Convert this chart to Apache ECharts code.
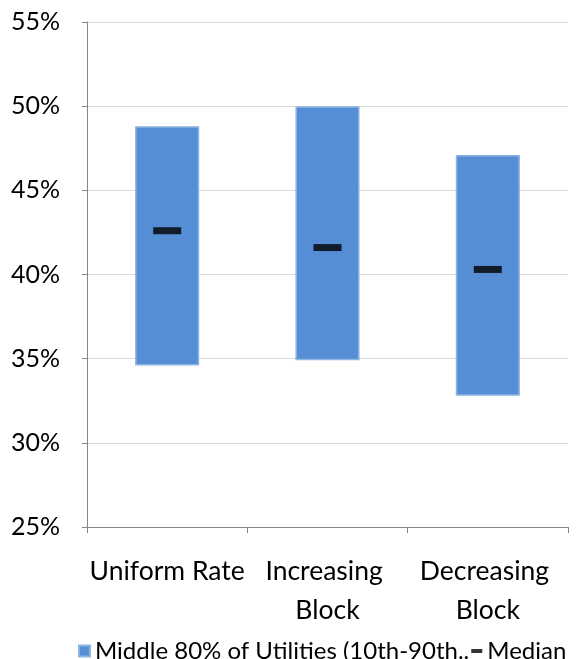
<!DOCTYPE html>
<html>
<head>
<meta charset="utf-8">
<script src="https://cdn.jsdelivr.net/npm/echarts@6/dist/echarts.min.js"></script>
<style>
  html, body { margin: 0; padding: 0; background: #fff; }
  #chart { width: 576px; height: 659px; }
</style>
</head>
<body>
<div id="chart"></div>
<script>
// categories and values (percent)
var categories = ['Uniform Rate', 'Increasing Block', 'Decreasing Block'];
var low10 = [34.6, 34.9, 32.8];     // 10th percentile
var high90 = [48.8, 50.0, 47.1];    // 90th percentile
var median = [42.6, 41.6, 40.3];
var yTicks = { min: 25, max: 55, step: 5 };
var rangeName = 'Middle 80% of Utilities (10th-90th Percentile)';

var rangeArr = [];
for (var i = 0; i < categories.length; i++) {
    rangeArr.push(+(high90[i] - low10[i]).toFixed(2));
}

var chart = echarts.init(document.getElementById('chart'));
var font = 'Lato, "Open Sans", sans-serif';

var option = {
    animation: false,
    textStyle: { fontFamily: font },
    grid: { left: 87, right: 8, top: 22, bottom: 132 },
    legend: {
        left: 78,
        top: 639,
        padding: 0,
        width: 498,
        itemGap: 2,
        itemWidth: 11,
        itemHeight: 11,
        textStyle: { fontSize: 24, color: '#000', fontFamily: font },
        // the legend box cuts the long name off like the original
        formatter: function (name) {
            return name.length > 36 ? name.slice(0, 34) + '..' : name;
        },
        data: [
            { name: rangeName, icon: 'rect' },
            { name: 'Median', icon: 'path://M0,0h11v4h-11z' }
        ]
    },
    xAxis: {
        type: 'category',
        data: categories,
        axisLine: { lineStyle: { color: '#868686' } },
        axisTick: { show: true, length: 6, lineStyle: { color: '#868686' } },
        axisLabel: {
            color: '#000',
            fontSize: 26.5,
            margin: 25,
            lineHeight: 39,
            width: 158,
            overflow: 'break',
            interval: 0
        }
    },
    yAxis: {
        type: 'value',
        min: yTicks.min,
        max: yTicks.max,
        interval: yTicks.step,
        axisLine: { show: true, lineStyle: { color: '#868686' } },
        axisTick: { show: true, length: 5, lineStyle: { color: '#868686' } },
        splitLine: { lineStyle: { color: '#D9D9D9' } },
        axisLabel: { color: '#000', fontSize: 25, margin: 27, formatter: '{value}%' }
    },
    series: [
        {
            name: 'base',
            type: 'bar',
            stack: 'r',
            barWidth: '40%',
            itemStyle: { color: 'transparent' },
            data: low10
        },
        {
            name: rangeName,
            type: 'bar',
            stack: 'r',
            barWidth: '40%',
            itemStyle: { color: '#558ED5', borderColor: '#8DB4E2', borderWidth: 1.5 },
            data: rangeArr
        },
        {
            name: 'Median',
            type: 'scatter',
            symbol: 'rect',
            symbolSize: [28, 7],
            itemStyle: { color: '#000' },
            z: 5,
            data: median
        }
    ]
};

chart.setOption(option);
</script>
</body>
</html>
